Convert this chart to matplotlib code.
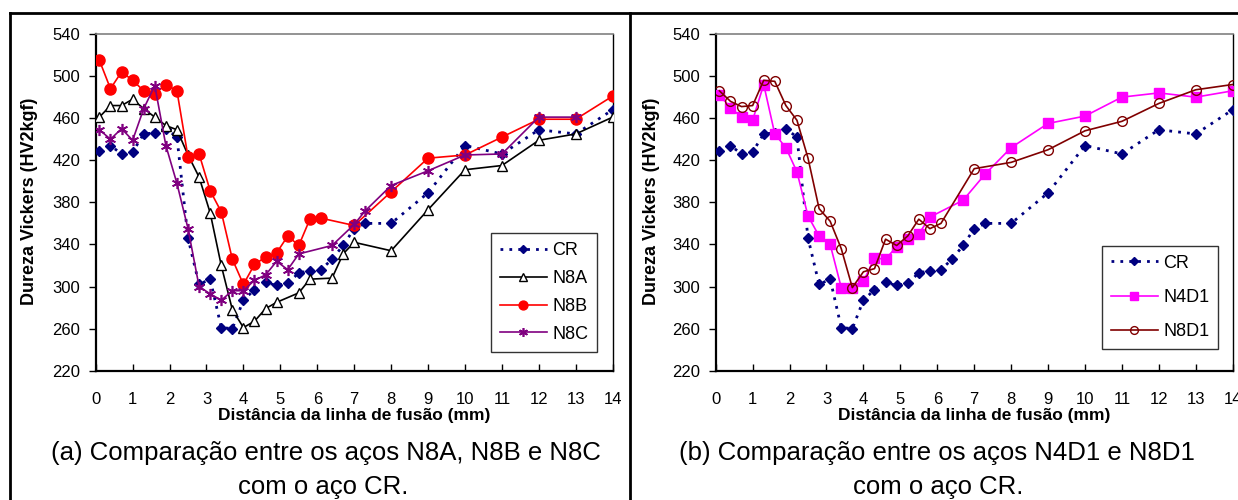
import matplotlib
matplotlib.use('Agg')
import matplotlib.pyplot as plt
from matplotlib.lines import Line2D

plt.rcParams['font.family'] = ['Liberation Sans', 'DejaVu Sans']

# hardness profiles (HV2kgf) vs distance from fusion line (mm)
cr_x = [0.1, 0.4, 0.7, 1.0, 1.3, 1.6, 1.9, 2.2, 2.5, 2.8, 3.1, 3.4, 3.7, 4.0, 4.3, 4.6,
        4.9, 5.2, 5.5, 5.8, 6.1, 6.4, 6.7, 7.0, 7.3, 8, 9, 10, 11, 12, 13, 14]
cr_y = [429, 434, 426, 428, 445, 446, 450, 442, 346, 302, 307, 261, 260, 287, 297, 304,
        301, 303, 313, 315, 316, 326, 339, 355, 360, 360, 389, 434, 426, 449, 445, 468]

n8a_x = [0.1, 0.4, 0.7, 1.0, 1.3, 1.6, 1.9, 2.2, 2.5, 2.8, 3.1, 3.4, 3.7, 4.0, 4.3, 4.6,
         4.9, 5.5, 5.8, 6.4, 6.7, 7.0, 8, 9, 10, 11, 12, 13, 14]
n8a_y = [461, 472, 472, 478, 469, 461, 453, 449, 425, 404, 370, 320, 278, 261, 267, 279,
         285, 294, 307, 308, 331, 342, 334, 373, 411, 415, 439, 445, 461]

n8b_x = [0.1, 0.4, 0.7, 1.0, 1.3, 1.6, 1.9, 2.2, 2.5, 2.8, 3.1, 3.4, 3.7, 4.0, 4.3, 4.6,
         4.9, 5.2, 5.5, 5.8, 6.1, 7.0, 8, 9, 10, 11, 12, 13, 14]
n8b_y = [515, 488, 504, 496, 486, 483, 492, 486, 423, 426, 391, 371, 326, 302, 321, 328,
         332, 348, 339, 364, 365, 358, 390, 422, 425, 442, 459, 459, 481]

n8c_x = [0.1, 0.4, 0.7, 1.0, 1.3, 1.6, 1.9, 2.2, 2.5, 2.8, 3.1, 3.4, 3.7, 4.0, 4.3, 4.6,
         4.9, 5.2, 5.5, 6.4, 7.0, 7.3, 8, 9, 10, 11, 12, 13]
n8c_y = [449, 440, 450, 439, 469, 491, 434, 398, 355, 300, 293, 287, 296, 296, 306, 311,
         324, 316, 331, 339, 359, 372, 396, 410, 425, 426, 461, 461]

n4d1_x = [0.1, 0.4, 0.7, 1.0, 1.3, 1.6, 1.9, 2.2, 2.5, 2.8, 3.1, 3.4, 3.7, 4.0, 4.3, 4.6,
          4.9, 5.2, 5.5, 5.8, 6.7, 7.3, 8, 9, 10, 11, 12, 13, 14]
n4d1_y = [482, 470, 461, 458, 492, 445, 432, 409, 367, 348, 340, 299, 299, 305, 327, 326,
          338, 345, 350, 366, 382, 407, 432, 455, 462, 480, 484, 480, 486]

n8d1_x = [0.1, 0.4, 0.7, 1.0, 1.3, 1.6, 1.9, 2.2, 2.5, 2.8, 3.1, 3.4, 3.7, 4.0, 4.3, 4.6,
          4.9, 5.2, 5.5, 5.8, 6.1, 7.0, 8, 9, 10, 11, 12, 13, 14]
n8d1_y = [486, 476, 471, 472, 496, 495, 472, 458, 422, 374, 362, 336, 299, 314, 317, 345,
          339, 348, 364, 355, 360, 412, 418, 430, 448, 457, 474, 487, 492]

x_ticks = list(range(0, 15))
y_ticks = list(range(220, 541, 40))

W, H = 1238, 500
fig = plt.figure(figsize=(W / 100, H / 100), dpi=100)


def px_axes(x0, y0, x1, y1):
    # pixel box (top-left origin) -> figure fraction
    return fig.add_axes([x0 / W, 1 - y1 / H, (x1 - x0) / W, (y1 - y0) / H])


def style_axes(ax):
    ax.set_xlim(0, 14)
    ax.set_ylim(220, 540)
    ax.set_xticks(x_ticks)
    ax.set_yticks(y_ticks)
    ax.tick_params(axis='x', direction='in', length=5, width=1, pad=15, labelsize=12)
    ax.tick_params(axis='y', direction='out', length=5, width=1, pad=6, labelsize=12)
    ax.spines['left'].set_linewidth(1.6)
    ax.spines['bottom'].set_linewidth(1.6)
    ax.spines['top'].set_color('#808080')
    ax.spines['top'].set_linewidth(1.2)
    ax.spines['right'].set_linewidth(1.0)
    ax.set_xlabel('Distância da linha de fusão (mm)', fontsize=12.5,
                  fontweight='bold', labelpad=1)


def plot_cr(ax):
    ax.plot(cr_x, cr_y, color='#000080', linestyle=(0, (1, 2.2)), linewidth=2,
            marker='D', markersize=5, markerfacecolor='#000080',
            markeredgecolor='#000080', label='CR', zorder=3)


def add_legend(ax, anchor, spacing):
    leg = ax.legend(loc='lower right', bbox_to_anchor=anchor, borderaxespad=0,
                    fontsize=13, frameon=True, fancybox=False, edgecolor='black',
                    handlelength=2.6, handletextpad=0.3, labelspacing=spacing,
                    borderpad=0.5, markerscale=0.8)
    leg.get_frame().set_linewidth(1.0)


# (a)
ax1 = px_axes(95.7, 34, 612.7, 370.7)
plot_cr(ax1)
ax1.plot(n8a_x, n8a_y, color='black', linewidth=1.2, marker='^', markersize=7,
         markerfacecolor='white', markeredgecolor='black', label='N8A', zorder=3)
ax1.plot(n8b_x, n8b_y, color='red', linewidth=1.2, marker='o', markersize=8,
         markerfacecolor='red', markeredgecolor='red', label='N8B', zorder=3)
ax1.plot(n8c_x, n8c_y, color='#800080', linewidth=1.2, marker=(6, 2, 0), markersize=8,
         markeredgewidth=1.2, label='N8C', zorder=3)
style_axes(ax1)
add_legend(ax1, (0.970, 0.056), 0.6)

# (b)
ax2 = px_axes(715.7, 34, 1232.7, 370.7)
plot_cr(ax2)
ax2.plot(n4d1_x, n4d1_y, color='#FF00FF', linewidth=1.2, marker='s', markersize=7,
         markerfacecolor='#FF00FF', markeredgecolor='#FF00FF', label='N4D1', zorder=3)
ax2.plot(n8d1_x, n8d1_y, color='#800000', linewidth=1.2, marker='o', markersize=7,
         markerfacecolor='none', markeredgecolor='#800000', label='N8D1', zorder=3)
style_axes(ax2)
add_legend(ax2, (0.972, 0.064), 0.95)

# y labels
for xp in (30, 651):
    fig.text(xp / W, 1 - 201 / H, 'Dureza Vickers (HV2kgf)', rotation=90,
             ha='center', va='center', fontsize=13, fontweight='bold')

# captions
fig.text(326 / W, 1 - 453 / H, '(a) Comparação entre os aços N8A, N8B e N8C',
         ha='center', va='center', fontsize=18.5)
fig.text(323 / W, 1 - 487 / H, 'com o aço CR.', ha='center', va='center', fontsize=18.5)
fig.text(937 / W, 1 - 453 / H, '(b) Comparação entre os aços N4D1 e N8D1',
         ha='center', va='center', fontsize=18.5)
fig.text(938 / W, 1 - 487 / H, 'com o aço CR.', ha='center', va='center', fontsize=18.5)

# frame lines
for xs, ys in [((10, W), (13, 13)), ((10, 10), (13, H)), ((630, 630), (13, H))]:
    fig.add_artist(Line2D([x / W for x in xs], [1 - y / H for y in ys],
                          color='black', linewidth=2))

fig.savefig('out.png', dpi=100)
